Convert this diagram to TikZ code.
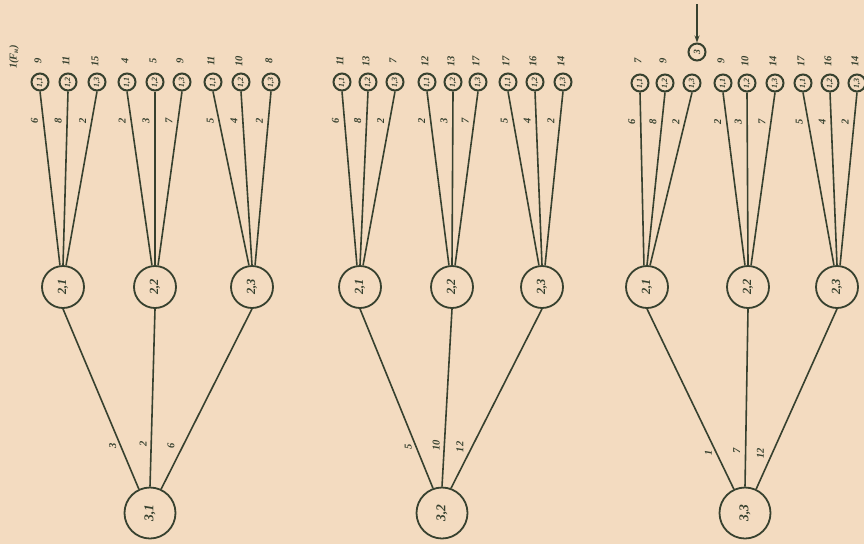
\documentclass[tikz,border=0pt]{standalone}
\usepackage{graphicx}
\usepackage{fontspec}
\setmainfont{Liberation Serif}
\usetikzlibrary{arrows.meta}
\definecolor{paper}{HTML}{F3DBC0}
\definecolor{ink}{HTML}{37412F}
\newcommand{\rt}[1]{\rotatebox{90}{#1}}
\begin{document}
\begin{tikzpicture}[x=1pt,y=-1pt,
  leaf/.style={circle, draw=ink, text=ink, line width=2pt, minimum size=17pt, inner sep=0pt, font=\itshape\bfseries\fontsize{8}{8}\selectfont},
  mid/.style={circle, draw=ink, text=ink, line width=1.8pt, minimum size=42pt, inner sep=0pt, font=\itshape\bfseries\fontsize{12.5}{12.5}\selectfont},
  root/.style={circle, draw=ink, text=ink, line width=1.8pt, minimum size=51pt, inner sep=0pt, font=\itshape\bfseries\fontsize{13.5}{13.5}\selectfont},
  num/.style={text=ink, inner sep=0pt, font=\itshape\bfseries\fontsize{10.5}{10.5}\selectfont},
  conn/.style={draw=ink, line width=1.6pt}]
\fill[paper] (0,0) rectangle (864,544);
\useasboundingbox (0,0) rectangle (864,544);

\node[num] (fn) at (14,57) {\rt{1(F\textsubscript{н})}};

% ---------- tree 1 ----------
\node[root] (ar) at (150,513) {\rt{3,1}};
\foreach \g/\mx in {1/63,2/155,3/252}
  \node[mid] (a\g) at (\mx,287) {\rt{2,\g}};
\foreach \g/\j/\x/\top/\w [evaluate=\j as \ang using 90+(2-\j)*8] in
  {1/1/40/9/6, 1/2/68/11/8, 1/3/97/15/2,
   2/1/127/4/2, 2/2/155/5/3, 2/3/182/9/7,
   3/1/213/11/5, 3/2/241/10/4, 3/3/271/8/2}{
  \node[leaf] (a\g\j) at (\x,82) {\rt{1,\j}};
  \node[num] (at\g\j) at (\x-2,61) {\rt{\top}};
  \draw[conn] (a\g\j.south) -- node[num,pos=0.17,xshift=-9pt] (aw\g\j) {\rt{\w}} (a\g.\ang);
}
\foreach \g/\ang/\w/\s in {1/115/3/-8, 2/90/2/-8, 3/65/6/-12}
  \draw[conn] (a\g.south) -- node[num,pos=0.76,xshift=\s pt] (ab\g) {\rt{\w}} (ar.\ang);

% ---------- tree 2 ----------
\node[root] (br) at (442,513) {\rt{3,2}};
\foreach \g/\mx in {1/360,2/452,3/542}
  \node[mid] (b\g) at (\mx,287) {\rt{2,\g}};
\foreach \g/\j/\x/\top/\w [evaluate=\j as \ang using 90+(2-\j)*8] in
  {1/1/342/11/6, 1/2/368/13/8, 1/3/395/7/2,
   2/1/427/12/2, 2/2/453/13/3, 2/3/478/17/7,
   3/1/508/17/5, 3/2/535/16/4, 3/3/563/14/2}{
  \node[leaf] (b\g\j) at (\x,82) {\rt{1,\j}};
  \node[num] (bt\g\j) at (\x-2,61) {\rt{\top}};
  \draw[conn] (b\g\j.south) -- node[num,pos=0.17,xshift=-9pt] (bw\g\j) {\rt{\w}} (b\g.\ang);
}
\foreach \g/\ang/\w/\s in {1/110/5/-8, 2/90/10/-8, 3/70/12/-12}
  \draw[conn] (b\g.south) -- node[num,pos=0.77,xshift=\s pt] (bb\g) {\rt{\w}} (br.\ang);

% ---------- tree 3 ----------
\node[root] (cr) at (745,513) {\rt{3,3}};
\foreach \g/\mx in {1/647,2/748,3/837}
  \node[mid] (c\g) at (\mx,287) {\rt{2,\g}};
\foreach \g/\j/\x/\top/\w [evaluate=\j as \ang using 90+(2-\j)*8] in
  {1/1/640/7/6, 1/2/665/9/8, 1/3/692//2,
   2/1/723/9/2, 2/2/747/10/3, 2/3/775/14/7,
   3/1/803/17/5, 3/2/830/16/4, 3/3/857/14/2}{
  \node[leaf] (c\g\j) at (\x,83) {\rt{1,\j}};
  \node[num] (ct\g\j) at (\x-2,61) {\rt{\top}};
  \draw[conn] (c\g\j.south) -- node[num,pos=0.17,xshift=-9pt] (cw\g\j) {\rt{\w}} (c\g.\ang);
}
\foreach \g/\ang/\w/\s in {1/115/1/-8, 2/90/7/-9, 3/65/12/-12}
  \draw[conn] (c\g.south) -- node[num,pos=0.8,xshift=\s pt] (cb\g) {\rt{\w}} (cr.\ang);

\node[leaf, font=\itshape\bfseries\fontsize{9.5}{9.5}\selectfont] (cx) at (697,52) {\rt{3}};
\coordinate (arrtop) at (697,4);
\draw[conn, -{Stealth[length=7pt,width=5pt]}] (arrtop) -- (cx.north);
\end{tikzpicture}
\end{document}
